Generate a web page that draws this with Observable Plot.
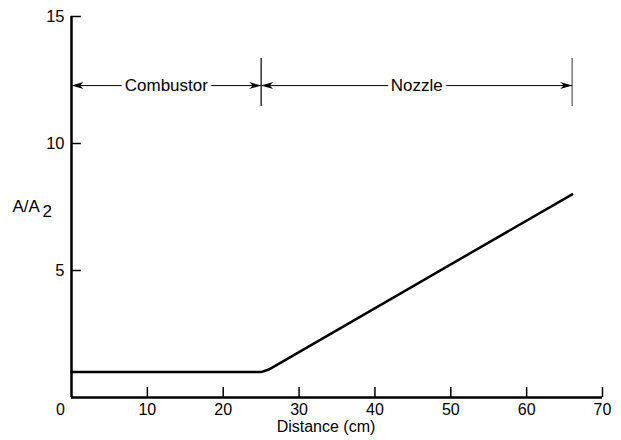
<!DOCTYPE html>
<html>
<head>
<meta charset="utf-8">
<script src="https://cdn.jsdelivr.net/npm/d3@7"></script>
<script src="https://cdn.jsdelivr.net/npm/@observablehq/plot@0.6"></script>
<style>
  html, body { margin: 0; padding: 0; background: #fff; }
  #chart svg { display: block; }
</style>
</head>
<body>
<div id="chart"></div>
<script>
// Area-ratio profile
const profileX = [0, 25, 26, 66];
const profileY = [1.0, 1.0, 1.1, 8.0];

// Section boundaries and labels
const sectionBounds = [0, 25, 66];
const sectionNames = ["Combustor", "Nozzle"];
const sectionMid = [12.5, 45.5];
const dimY = 12.28;

// Ticks
const xTicks = [0, 10, 20, 30, 40, 50, 60, 70];
const yTicks = [5, 10, 15];

const profile = profileX.map((x, i) => ({x, y: profileY[i]}));
const sections = sectionNames.map((name, i) => ({
  name, x1: sectionBounds[i], x2: sectionBounds[i + 1], mid: sectionMid[i]
}));

// filled, notched arrowheads (tip at the anchor point)
const arrowRight = {draw(ctx) { ctx.moveTo(0, 0); ctx.lineTo(-12, -3.5); ctx.lineTo(-8.5, 0); ctx.lineTo(-12, 3.5); ctx.closePath(); }};
const arrowLeft  = {draw(ctx) { ctx.moveTo(0, 0); ctx.lineTo(12, -3.5); ctx.lineTo(8.5, 0); ctx.lineTo(12, 3.5); ctx.closePath(); }};

const font = "Liberation Sans, Arial, Helvetica, sans-serif";

const chart = Plot.plot({
  width: 621,
  height: 440,
  marginLeft: 71,
  marginRight: 19,
  marginTop: 16,
  marginBottom: 43,
  x: {domain: [0, 70], axis: null},
  y: {domain: [0, 15], axis: null},
  style: {fontFamily: font, background: "#fff", color: "#000"},
  marks: [
    // axes lines
    Plot.ruleX([0], {y1: 0, y2: 15, stroke: "#000", strokeWidth: 2.5}),
    Plot.ruleY([0], {x1: 0, x2: 70, stroke: "#000", strokeWidth: 2.5}),
    // inward ticks
    Plot.ruleX(xTicks.filter(d => d > 0), {y1: 0, y2: 0.39, stroke: "#000", strokeWidth: 1.5}),
    Plot.ruleY(yTicks, {x1: 0, x2: 1.3, stroke: "#000", strokeWidth: 1.5}),
    // tick labels
    Plot.text(xTicks.filter(d => d > 0), {x: d => d, y: 0, dy: 12, text: d => String(d), fontSize: 16, fill: "#000"}),
    Plot.text(xTicks.filter(d => d === 0), {x: d => d, y: 0, dy: 12, dx: -11, text: d => String(d), fontSize: 16, fill: "#000"}),
    Plot.text(yTicks, {x: 0, y: d => d, dx: -7, textAnchor: "end", text: d => String(d), fontSize: 16.5, fill: "#000"}),
    // axis labels
    Plot.text(["Distance (cm)"], {frameAnchor: "bottom", dx: -11, dy: 34, fontSize: 16, fill: "#000"}),
    Plot.text(["A/A"], {x: 0, y: 7.5, dx: -59, textAnchor: "start", fontSize: 17, fill: "#000"}),
    Plot.text(["2"], {x: 0, y: 7.5, dx: -29, dy: 5, textAnchor: "start", fontSize: 17, fill: "#000"}),
    // section boundaries
    Plot.ruleX([sectionBounds[1]], {y1: 11.46, y2: 13.35, stroke: "#000", strokeWidth: 1.2}),
    Plot.ruleX([sectionBounds[2]], {y1: 11.46, y2: 13.35, stroke: "#777", strokeWidth: 1.5}),
    // dimension lines
    Plot.link(sections, {x1: "x1", x2: "x2", y1: dimY, y2: dimY, stroke: "#000", strokeWidth: 1}),
    Plot.dot(sections, {x: "x1", y: dimY, symbol: arrowLeft, fill: "#000", stroke: null, r: 4}),
    Plot.dot(sections, {x: "x2", y: dimY, symbol: arrowRight, fill: "#000", stroke: null, r: 4}),
    Plot.text(sections, {x: "mid", y: dimY, text: "name", fontSize: 17, fill: "#000", stroke: "#fff", strokeWidth: 8}),
    // profile
    Plot.line(profile, {x: "x", y: "y", stroke: "#000", strokeWidth: 2.5, strokeLinejoin: "round"})
  ]
});
document.getElementById("chart").append(chart);
</script>
</body>
</html>
